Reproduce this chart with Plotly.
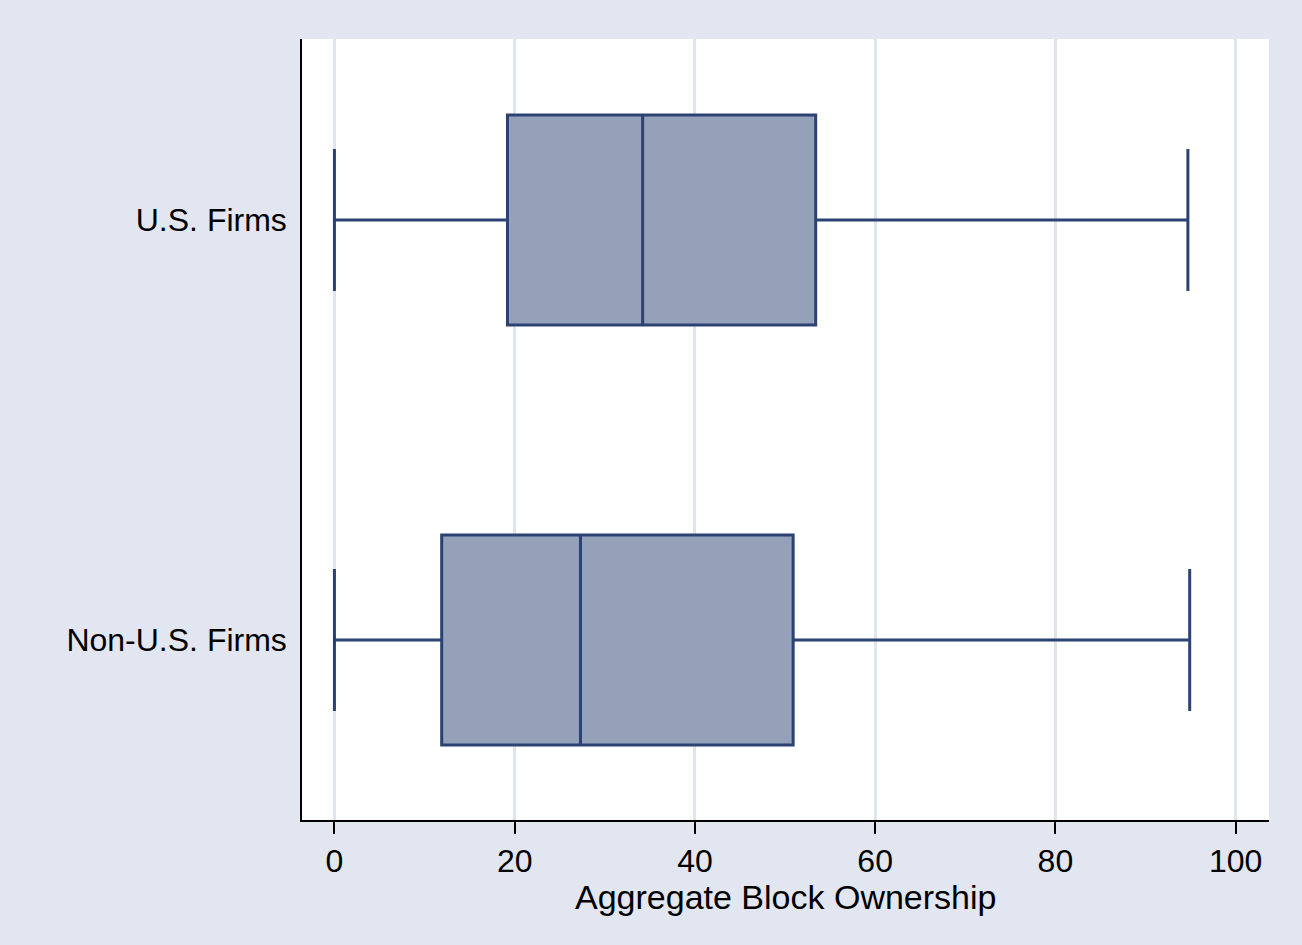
import plotly.graph_objects as go

groups = ["Non-U.S. Firms", "U.S. Firms"]
positions = [0, 1]
lower_whisker = [0.0, 0.0]
q1 = [11.9, 19.2]
median = [27.3, 34.2]
q3 = [50.9, 53.4]
upper_whisker = [94.9, 94.7]

x_ticks = [0, 20, 40, 60, 80, 100]
x_title = "Aggregate Block Ownership"

LINE = "#2B4273"
FILL = "#94A1B9"
BG = "#E2E6F0"
GRID = "#DFE4EE"
FONT = "Liberation Sans, Arial, Helvetica, sans-serif"

fig = go.Figure()
for i in range(len(groups)):
    fig.add_trace(go.Box(
        y=[positions[i]],
        q1=[q1[i]], median=[median[i]], q3=[q3[i]],
        lowerfence=[lower_whisker[i]], upperfence=[upper_whisker[i]],
        orientation="h",
        width=0.5,
        whiskerwidth=0.676,
        fillcolor=FILL,
        line=dict(color=LINE, width=3),
        boxpoints=False,
        showlegend=False,
        name=groups[i],
    ))

fig.update_layout(
    width=1302, height=945,
    margin=dict(l=302, r=33, t=39, b=125),
    paper_bgcolor=BG,
    plot_bgcolor="white",
    font=dict(family=FONT, size=32, color="black"),
    xaxis=dict(
        range=[-3.6, 103.7],
        tickvals=x_ticks,
        ticktext=[str(t) for t in x_ticks],
        showgrid=True, gridcolor=GRID, gridwidth=3,
        zeroline=False,
        showline=True, linecolor="black", linewidth=1.5,
        ticks="outside", ticklen=12, tickwidth=1.5, tickcolor="black",
        tickfont=dict(size=32),
    ),
    yaxis=dict(
        range=[-0.4286, 1.431],
        tickvals=positions,
        ticktext=groups,
        showgrid=False, zeroline=False,
        showline=True, linecolor="black", linewidth=1.5,
        ticks="", ticklabelstandoff=7,
        tickfont=dict(size=32),
    ),
    annotations=[dict(
        text=x_title, xref="paper", yref="paper", x=0.5, y=-0.0986,
        xanchor="center", yanchor="middle", showarrow=False,
        font=dict(size=34, family=FONT, color="black"),
    )],
)

fig.write_html(
    "out.html",
    config={"displayModeBar": False},
    post_script="document.body.style.margin='0';document.body.style.padding='0';document.body.style.background='%s';" % BG,
)
